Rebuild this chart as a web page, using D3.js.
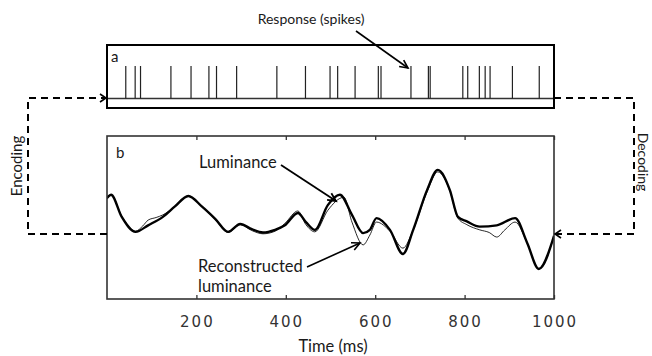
<!doctype html>
<html>
<head>
<script src="https://cdnjs.cloudflare.com/ajax/libs/d3/7.8.5/d3.min.js"></script>
<style>
  body { margin: 0; background: #fff; }
  svg text { font-family: Lato, "Open Sans", sans-serif; fill: #1a1a1a; }
  .tick-label { font-family: "DejaVu Sans", sans-serif !important; letter-spacing: 2px; fill: #333; }
</style>
</head>
<body>
<div id="viz"></div>
<script>
// spike times (ms) of the response
var spikeTimes = [42, 63, 75, 143, 188, 228, 245, 290, 380, 444, 499, 516, 555,
                  607, 613, 680, 719, 723, 796, 807, 833, 846, 857, 907, 967];

// luminance (thick) and reconstruction (thin), arbitrary units
var lumTime = [0, 9, 33, 64, 92, 125, 152, 182, 212, 242, 271, 298, 324, 349, 376, 398,
               427, 445, 465, 494, 521, 548, 573, 588, 603, 633, 662, 685, 716, 740, 767,
               785, 805, 834, 872, 913, 940, 966, 1000];
var lumValue = [0.55, 0.60, 0.26, 0.03, 0.13, 0.26, 0.42, 0.58, 0.42, 0.23, 0.03, 0.15, 0.07,
                0.02, 0.06, 0.13, 0.32, 0.18, 0.06, 0.44, 0.60, 0.29, 0.01, 0.06, 0.24, 0.06,
                -0.31, 0.06, 0.67, 0.98, 0.67, 0.26, 0.19, 0.11, 0.13, 0.24, -0.14, -0.54, -0.03];

var recTime = [0, 9, 33, 64, 80, 92, 110, 125, 152, 182, 212, 242, 271, 298, 324, 349, 376,
               398, 427, 445, 465, 494, 530, 548, 573, 588, 603, 633, 662, 685, 716, 740, 767,
               785, 805, 834, 855, 872, 890, 913, 940, 966, 1000];
var recValue = [0.53, 0.60, 0.27, 0.04, 0.12, 0.21, 0.25, 0.29, 0.42, 0.58, 0.42, 0.22, 0.02,
                0.14, 0.05, 0.00, 0.04, 0.16, 0.35, 0.14, 0.03, 0.36, 0.56, 0.18, -0.17, -0.02,
                0.18, 0.04, -0.22, 0.06, 0.64, 0.95, 0.66, 0.24, 0.14, 0.06, 0.02, -0.05, 0.06,
                0.18, -0.14, -0.54, -0.03];

var xTicks = [200, 400, 600, 800, 1000];

var width = 652, height = 356;
var left = 107, right = 554;

var svg = d3.select("#viz").append("svg")
    .attr("width", width)
    .attr("height", height);

var x = d3.scaleLinear().domain([0, 1000]).range([left, right]);

// ---- panel a : spikes
var aTop = 45, aBottom = 108;
var ySpike = d3.scaleLinear().domain([0, 1]).range([98.5, 66]);

svg.append("line")
    .attr("x1", left).attr("x2", right)
    .attr("y1", ySpike(0)).attr("y2", ySpike(0))
    .attr("stroke", "#333").attr("stroke-width", 1.3);

svg.selectAll(".spike")
    .data(spikeTimes)
    .enter().append("line")
    .attr("class", "spike")
    .attr("x1", d => x(d)).attr("x2", d => x(d))
    .attr("y1", ySpike(0)).attr("y2", ySpike(1))
    .attr("stroke", "#222").attr("stroke-width", 1.2);

svg.append("rect")
    .attr("x", left).attr("y", aTop)
    .attr("width", right - left).attr("height", aBottom - aTop)
    .attr("fill", "none").attr("stroke", "#000").attr("stroke-width", 2);

svg.append("text").attr("x", 111).attr("y", 62)
    .style("font-size", "15px").text("a");

// ---- panel b : luminance
var bTop = 136, bBottom = 299;
var y = d3.scaleLinear().domain([-1, 1.5]).range([bBottom, bTop]);

svg.append("clipPath").attr("id", "clipb")
    .append("rect").attr("x", left).attr("y", bTop)
    .attr("width", right - left).attr("height", bBottom - bTop);

var line = d3.line()
    .x(d => x(d[0]))
    .y(d => y(d[1]))
    .curve(d3.curveMonotoneX);

var g = svg.append("g").attr("clip-path", "url(#clipb)");

g.append("path")
    .datum(recTime.map((t, i) => [t, recValue[i]]))
    .attr("d", line)
    .attr("fill", "none").attr("stroke", "#111").attr("stroke-width", 0.9);

g.append("path")
    .datum(lumTime.map((t, i) => [t, lumValue[i]]))
    .attr("d", line)
    .attr("fill", "none").attr("stroke", "#000").attr("stroke-width", 2.4);

svg.append("rect")
    .attr("x", left).attr("y", bTop)
    .attr("width", right - left).attr("height", bBottom - bTop)
    .attr("fill", "none").attr("stroke", "#333").attr("stroke-width", 1.6);

// inward ticks top and bottom
svg.append("g").attr("transform", "translate(0," + bBottom + ")")
    .call(d3.axisBottom(x).tickValues(xTicks).tickSize(-4).tickFormat(""))
    .call(a => a.select(".domain").remove())
    .selectAll("line").attr("stroke", "#333").attr("stroke-width", 1.3);
svg.append("g").attr("transform", "translate(0," + bTop + ")")
    .call(d3.axisTop(x).tickValues(xTicks).tickSize(-4).tickFormat(""))
    .call(a => a.select(".domain").remove())
    .selectAll("line").attr("stroke", "#333").attr("stroke-width", 1.3);

svg.append("g").selectAll("text")
    .data(xTicks)
    .enter().append("text")
    .attr("class", "tick-label")
    .attr("x", d => x(d) + 1)
    .attr("y", 327)
    .attr("text-anchor", "middle")
    .style("font-size", "15px")
    .text(d => d);

svg.append("text").attr("x", 333).attr("y", 352)
    .attr("text-anchor", "middle")
    .style("font-size", "16.5px").text("Time (ms)");

svg.append("text").attr("x", 116).attr("y", 158)
    .style("font-size", "15px").text("b");

// ---- arrows
function arrow(x1, y1, x2, y2, sz, w) {
    var a = Math.atan2(y2 - y1, x2 - x1), s = 0.45;
    svg.append("line")
        .attr("x1", x1).attr("y1", y1).attr("x2", x2).attr("y2", y2)
        .attr("stroke", "#000").attr("stroke-width", w);
    svg.append("path")
        .attr("d", "M" + (x2 - sz * Math.cos(a - s)) + "," + (y2 - sz * Math.sin(a - s)) +
            "L" + x2 + "," + y2 +
            "L" + (x2 - sz * Math.cos(a + s)) + "," + (y2 - sz * Math.sin(a + s)))
        .attr("fill", "none").attr("stroke", "#000").attr("stroke-width", w);
}

svg.append("text").attr("x", 311).attr("y", 24)
    .attr("text-anchor", "middle")
    .style("font-size", "14px").text("Response (spikes)");
arrow(356, 31, 408, 68, 9, 1.6);

svg.append("text").attr("x", 199).attr("y", 168)
    .style("font-size", "16.5px").text("Luminance");
arrow(281, 165, 336, 201, 9, 1.8);

svg.append("text").attr("x", 198).attr("y", 272)
    .style("font-size", "16.5px").text("Reconstructed");
svg.append("text").attr("x", 198).attr("y", 292)
    .style("font-size", "16.5px").text("luminance");
arrow(307, 267, 360, 243, 9, 1.6);

// ---- encoding / decoding connectors
var dash = "7,5";
svg.append("path")
    .attr("d", "M" + left + ",234H28V98H" + (left - 1))
    .attr("fill", "none").attr("stroke", "#000").attr("stroke-width", 2)
    .attr("stroke-dasharray", dash);
svg.append("path")
    .attr("d", "M" + (left - 7) + ",94L" + (left - 1) + ",98L" + (left - 7) + ",102")
    .attr("fill", "none").attr("stroke", "#000").attr("stroke-width", 1.6);

svg.append("path")
    .attr("d", "M" + right + ",98H634V234H" + (right + 1))
    .attr("fill", "none").attr("stroke", "#000").attr("stroke-width", 2)
    .attr("stroke-dasharray", dash);
svg.append("path")
    .attr("d", "M" + (right + 7) + ",230L" + (right + 1) + ",234L" + (right + 7) + ",238")
    .attr("fill", "none").attr("stroke", "#000").attr("stroke-width", 1.6);

svg.append("text")
    .attr("transform", "translate(22,166) rotate(-90)")
    .attr("text-anchor", "middle")
    .style("font-size", "15px").text("Encoding");
svg.append("text")
    .attr("transform", "translate(638,162) rotate(90)")
    .attr("text-anchor", "middle")
    .style("font-size", "14px").text("Decoding");
</script>
</body>
</html>
